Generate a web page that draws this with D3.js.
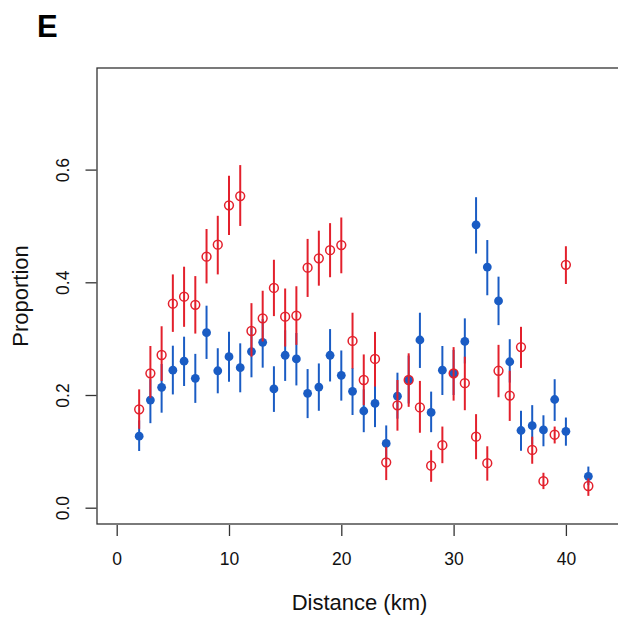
<!DOCTYPE html>
<html>
<head>
<meta charset="utf-8">
<script src="https://cdn.jsdelivr.net/npm/d3@7"></script>
<style>
  html, body { margin: 0; padding: 0; background: #ffffff; }
  svg { display: block; font-family: "Liberation Sans", Arial, Helvetica, sans-serif; }
</style>
</head>
<body>
<svg id="chart" width="618" height="617"></svg>
<script>
// ---- data ----
const distance = [2,3,4,5,6,7,8,9,10,11,12,13,14,15,16,17,18,19,20,21,22,23,24,25,26,27,28,29,30,31,32,33,34,35,36,37,38,39,40,42];

const blueProp = [0.127,0.191,0.2136,0.244,0.26,0.2296,0.3106,0.243,0.268,0.2485,0.277,0.2935,0.2107,0.2705,0.264,0.203,0.214,0.2705,0.235,0.2066,0.1716,0.185,0.114,0.198,0.2266,0.2976,0.169,0.244,0.2385,0.295,0.502,0.427,0.367,0.259,0.137,0.1455,0.138,0.192,0.1355,0.0557];
const blueLo   = [0.1006,0.15,0.1686,0.201,0.216,0.186,0.264,0.203,0.2236,0.2048,0.2314,0.2485,0.17,0.225,0.217,0.159,0.172,0.224,0.19,0.1645,0.134,0.143,0.085,0.158,0.185,0.248,0.134,0.2,0.2,0.256,0.451,0.377,0.324,0.222,0.101,0.112,0.109,0.154,0.11,0.04];
const blueHi   = [0.155,0.228,0.255,0.2875,0.3035,0.273,0.3585,0.283,0.3123,0.2917,0.32,0.335,0.251,0.315,0.31,0.246,0.256,0.317,0.279,0.248,0.21,0.225,0.146,0.2396,0.27,0.346,0.206,0.287,0.28,0.336,0.551,0.475,0.41,0.299,0.172,0.182,0.164,0.228,0.16,0.073];

const redProp = [0.1746,0.2385,0.271,0.362,0.3745,0.36,0.4455,0.4667,0.5366,0.553,0.3136,0.336,0.39,0.339,0.341,0.426,0.4426,0.457,0.466,0.296,0.2266,0.264,0.0806,0.1817,0.2266,0.178,0.0745,0.111,0.2385,0.221,0.126,0.079,0.243,0.199,0.285,0.1025,0.047,0.1295,0.431,0.0385];
const redLo   = [0.14,0.195,0.225,0.312,0.321,0.309,0.398,0.414,0.484,0.5,0.268,0.295,0.34,0.286,0.289,0.374,0.394,0.409,0.416,0.247,0.182,0.215,0.049,0.1367,0.179,0.133,0.046,0.079,0.19,0.173,0.086,0.048,0.196,0.154,0.248,0.078,0.033,0.114,0.397,0.021];
const redHi   = [0.21,0.287,0.322,0.414,0.4277,0.411,0.4946,0.518,0.589,0.608,0.363,0.385,0.44,0.389,0.393,0.477,0.4916,0.505,0.515,0.346,0.272,0.312,0.108,0.2266,0.274,0.225,0.102,0.144,0.285,0.268,0.166,0.109,0.289,0.243,0.321,0.126,0.062,0.144,0.464,0.052];

const xTicks = [0,10,20,30,40];
const yTicks = [0.0,0.2,0.4,0.6];
const yTickLabels = ["0.0","0.2","0.4","0.6"];

const panelLabel = "E";
const xTitle = "Distance (km)";
const yTitle = "Proportion";

// ---- layout ----
const frame = {left: 97, top: 68, right: 622, bottom: 524};
const blue = "#1a5cc4";
const red = "#e3202c";
const axisCol = "#333333";

const svg = d3.select("#chart");

const x = d3.scaleLinear().domain([0, 40]).range([116.7, 565.9]);
const y = d3.scaleLinear().domain([0, 0.6]).range([507.7, 169.6]);

// frame
svg.append("rect")
  .attr("x", frame.left).attr("y", frame.top)
  .attr("width", frame.right - frame.left).attr("height", frame.bottom - frame.top)
  .attr("fill", "none").attr("stroke", axisCol).attr("stroke-width", 1.3);

// x axis
const xAxis = svg.append("g")
  .attr("transform", `translate(0,${frame.bottom + 1})`)
  .call(d3.axisBottom(x).tickValues(xTicks).tickSize(11).tickSizeOuter(0).tickFormat(d3.format("d")));
xAxis.select(".domain").remove();
xAxis.selectAll(".tick line").attr("stroke", axisCol).attr("stroke-width", 1.3);
xAxis.selectAll(".tick text")
  .attr("y", 40).attr("dy", null)
  .attr("fill", "#111").style("font-size", "17.5px");

// y axis
const yAxis = svg.append("g")
  .attr("transform", `translate(${frame.left - 0.5},0)`)
  .call(d3.axisLeft(y).tickValues(yTicks).tickSize(11).tickSizeOuter(0).tickFormat((d, i) => yTickLabels[i]));
yAxis.select(".domain").remove();
yAxis.selectAll(".tick line").attr("stroke", axisCol).attr("stroke-width", 1.3);
yAxis.selectAll(".tick text")
  .attr("x", null).attr("dy", null)
  .attr("text-anchor", "middle")
  .attr("transform", "translate(-27.5,0) rotate(-90)")
  .attr("fill", "#111").style("font-size", "17.5px");

// titles
svg.append("text")
  .attr("x", (frame.left + frame.right) / 2).attr("y", 610)
  .attr("text-anchor", "middle").attr("fill", "#111")
  .style("font-size", "22px").text(xTitle);

svg.append("text")
  .attr("transform", `translate(28,${(frame.top + frame.bottom) / 2}) rotate(-90)`)
  .attr("text-anchor", "middle").attr("fill", "#111")
  .style("font-size", "22px").text(yTitle);

svg.append("text")
  .attr("x", 37).attr("y", 37)
  .attr("fill", "#000").style("font-size", "31px").style("font-weight", "bold")
  .text(panelLabel);

// data
const blueData = distance.map((d, i) => ({d, p: blueProp[i], lo: blueLo[i], hi: blueHi[i]}));
const redData = distance.map((d, i) => ({d, p: redProp[i], lo: redLo[i], hi: redHi[i]}));

const plot = svg.append("g");

plot.selectAll("line.blueci").data(blueData).join("line")
  .attr("class", "blueci")
  .attr("x1", d => x(d.d)).attr("x2", d => x(d.d))
  .attr("y1", d => y(d.lo)).attr("y2", d => y(d.hi))
  .attr("stroke", blue).attr("stroke-width", 2);

plot.selectAll("circle.bluept").data(blueData).join("circle")
  .attr("class", "bluept")
  .attr("cx", d => x(d.d)).attr("cy", d => y(d.p)).attr("r", 4.4)
  .attr("fill", blue);

plot.selectAll("line.redci").data(redData).join("line")
  .attr("class", "redci")
  .attr("x1", d => x(d.d)).attr("x2", d => x(d.d))
  .attr("y1", d => y(d.lo)).attr("y2", d => y(d.hi))
  .attr("stroke", red).attr("stroke-width", 2);

plot.selectAll("circle.redpt").data(redData).join("circle")
  .attr("class", "redpt")
  .attr("cx", d => x(d.d)).attr("cy", d => y(d.p)).attr("r", 4.4)
  .attr("fill", "none").attr("stroke", red).attr("stroke-width", 1.5);
</script>
</body>
</html>
